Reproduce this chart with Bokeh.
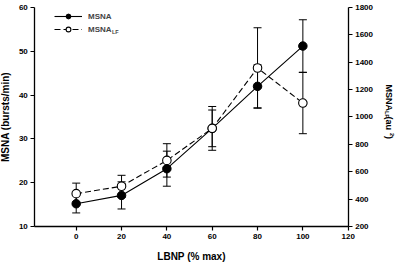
import numpy as np
from bokeh.plotting import figure
from bokeh.models import (Range1d, LinearAxis, FixedTicker, Whisker, TeeHead,
                          ColumnDataSource, Legend, LegendItem, Label)
from bokeh.embed import file_html
from bokeh.resources import INLINE

# ---- data ----
lbnp = [0, 20, 40, 60, 80, 100]
msna = [15.2, 17.1, 23.2, 32.4, 42.0, 51.2]          # bursts/min (left axis)
msna_err = [2.1, 3.1, 4.0, 5.0, 4.9, 6.0]
msna_lf = [440, 494, 683, 917, 1358, 1102]           # au^2 (right axis)
msna_lf_err = [77, 80, 122, 134, 294, 224]

x_ticks = [0, 20, 40, 60, 80, 100, 120]
left_ticks = [10, 20, 30, 40, 50, 60]
right_ticks = [200, 400, 600, 800, 1000, 1200, 1400, 1600, 1800]

FONT = "Liberation Sans"

src1 = ColumnDataSource(dict(x=lbnp, y=msna,
                             lo=np.array(msna) - np.array(msna_err),
                             hi=np.array(msna) + np.array(msna_err)))
src2 = ColumnDataSource(dict(x=lbnp, y=msna_lf,
                             lo=np.array(msna_lf) - np.array(msna_lf_err),
                             hi=np.array(msna_lf) + np.array(msna_lf_err)))

# axes are drawn inside a frame that covers the whole canvas
X_LEFT, X_RIGHT = -18.26, 120          # where the left / right axes stand
Y_BOTTOM, Y_TOP = 10, 60               # left axis span
R_BOTTOM, R_TOP = 200, 1800            # right axis span

p = figure(width=395, height=263, output_backend="svg", toolbar_location=None,
           x_range=Range1d(-33.40, 140.87), y_range=Range1d(1.553, 61.598),
           min_border_left=0, min_border_right=0, min_border_top=0,
           min_border_bottom=0)
p.extra_y_ranges = {"right": Range1d(-70.3, 1851.1)}
p.outline_line_color = None
p.xgrid.visible = False
p.ygrid.visible = False
p.background_fill_color = "white"
p.border_fill_color = "white"

def style_axis(ax, ticks):
    ax.ticker = FixedTicker(ticks=ticks)
    ax.minor_tick_line_color = None
    ax.major_tick_in = 0
    ax.major_tick_out = 4
    ax.axis_line_width = 1.3
    ax.major_tick_line_width = 1.2
    ax.axis_line_color = "black"
    ax.major_tick_line_color = "black"
    ax.major_label_text_font = FONT
    ax.major_label_text_font_style = "bold"
    ax.major_label_text_font_size = "8px"
    ax.major_label_text_color = "black"
    ax.major_label_standoff = 3
    ax.axis_label_text_font = FONT
    ax.axis_label_text_font_style = "bold"
    ax.axis_label_text_font_size = "10px"
    ax.axis_label_text_color = "black"
    ax.axis_label_standoff = 3

xax = p.xaxis[0]
style_axis(xax, x_ticks)
xax.axis_label = "LBNP (% max)"
xax.axis_label_standoff = 9
xax.bounds = (X_LEFT, X_RIGHT)
xax.fixed_location = Y_BOTTOM

yax = p.yaxis[0]
style_axis(yax, left_ticks)
yax.axis_label = "MSNA (bursts/min)"
yax.axis_label_standoff = 5
yax.bounds = (Y_BOTTOM, Y_TOP)
yax.fixed_location = X_LEFT

rax = LinearAxis(y_range_name="right", fixed_location=X_RIGHT, bounds=(R_BOTTOM, R_TOP))
style_axis(rax, right_ticks)
p.add_layout(rax, "right")

# error bars
w1 = Whisker(base="x", lower="lo", upper="hi", source=src1, line_width=1, line_color="black",
             upper_head=TeeHead(size=8, line_width=1), lower_head=TeeHead(size=8, line_width=1))
w2 = Whisker(base="x", lower="lo", upper="hi", source=src2, y_range_name="right",
             line_width=1, line_color="black",
             upper_head=TeeHead(size=8, line_width=1), lower_head=TeeHead(size=8, line_width=1))
p.add_layout(w1)
p.add_layout(w2)

l1 = p.line("x", "y", source=src1, line_color="black", line_width=1.1)
l2 = p.line("x", "y", source=src2, y_range_name="right", line_color="black",
            line_width=1.1, line_dash="6 3")
m1 = p.scatter("x", "y", source=src1, size=8.5, fill_color="black", line_color="black")
m2 = p.scatter("x", "y", source=src2, y_range_name="right", size=8.5,
               fill_color="white", line_color="black", line_width=1.1)

legend = Legend(items=[LegendItem(label="MSNA", renderers=[l1, m1]),
                       LegendItem(label="MSNA", renderers=[l2, m2])],
                location=(54, 228), padding=0, margin=0, spacing=1,
                glyph_width=28, glyph_height=12, label_height=12,
                label_standoff=6, border_line_color=None,
                background_fill_alpha=0,
                label_text_font=FONT, label_text_font_style="bold",
                label_text_font_size="8px")
p.add_layout(legend)

# (screen units of Label are relative to the frame = canvas: x from left, y from bottom)
p.add_layout(Label(x=111.5, y=232, x_units="screen", y_units="screen", text="LF",
                   text_font=FONT, text_font_style="bold", text_font_size="5.5px",
                   text_baseline="middle", text_align="left"))

# right axis title: MSNA_LF (au^2), reading downward
common = dict(x_units="screen", y_units="screen", angle=-np.pi / 2,
              text_font=FONT, text_font_style="bold", text_baseline="middle",
              text_align="left", text_color="black")
p.add_layout(Label(x=388.5, y=179, text="MSNA", text_font_size="9px", **common))
p.add_layout(Label(x=386, y=152.5, text="LF", text_font_size="5.5px", **common))
p.add_layout(Label(x=388.5, y=147, text=" (au", text_font_size="9px", **common))
p.add_layout(Label(x=391.5, y=130.5, text="2", text_font_size="5.5px", **common))
p.add_layout(Label(x=388.5, y=127.5, text=")", text_font_size="9px", **common))

open("out.html", "w").write(file_html(p, INLINE))
